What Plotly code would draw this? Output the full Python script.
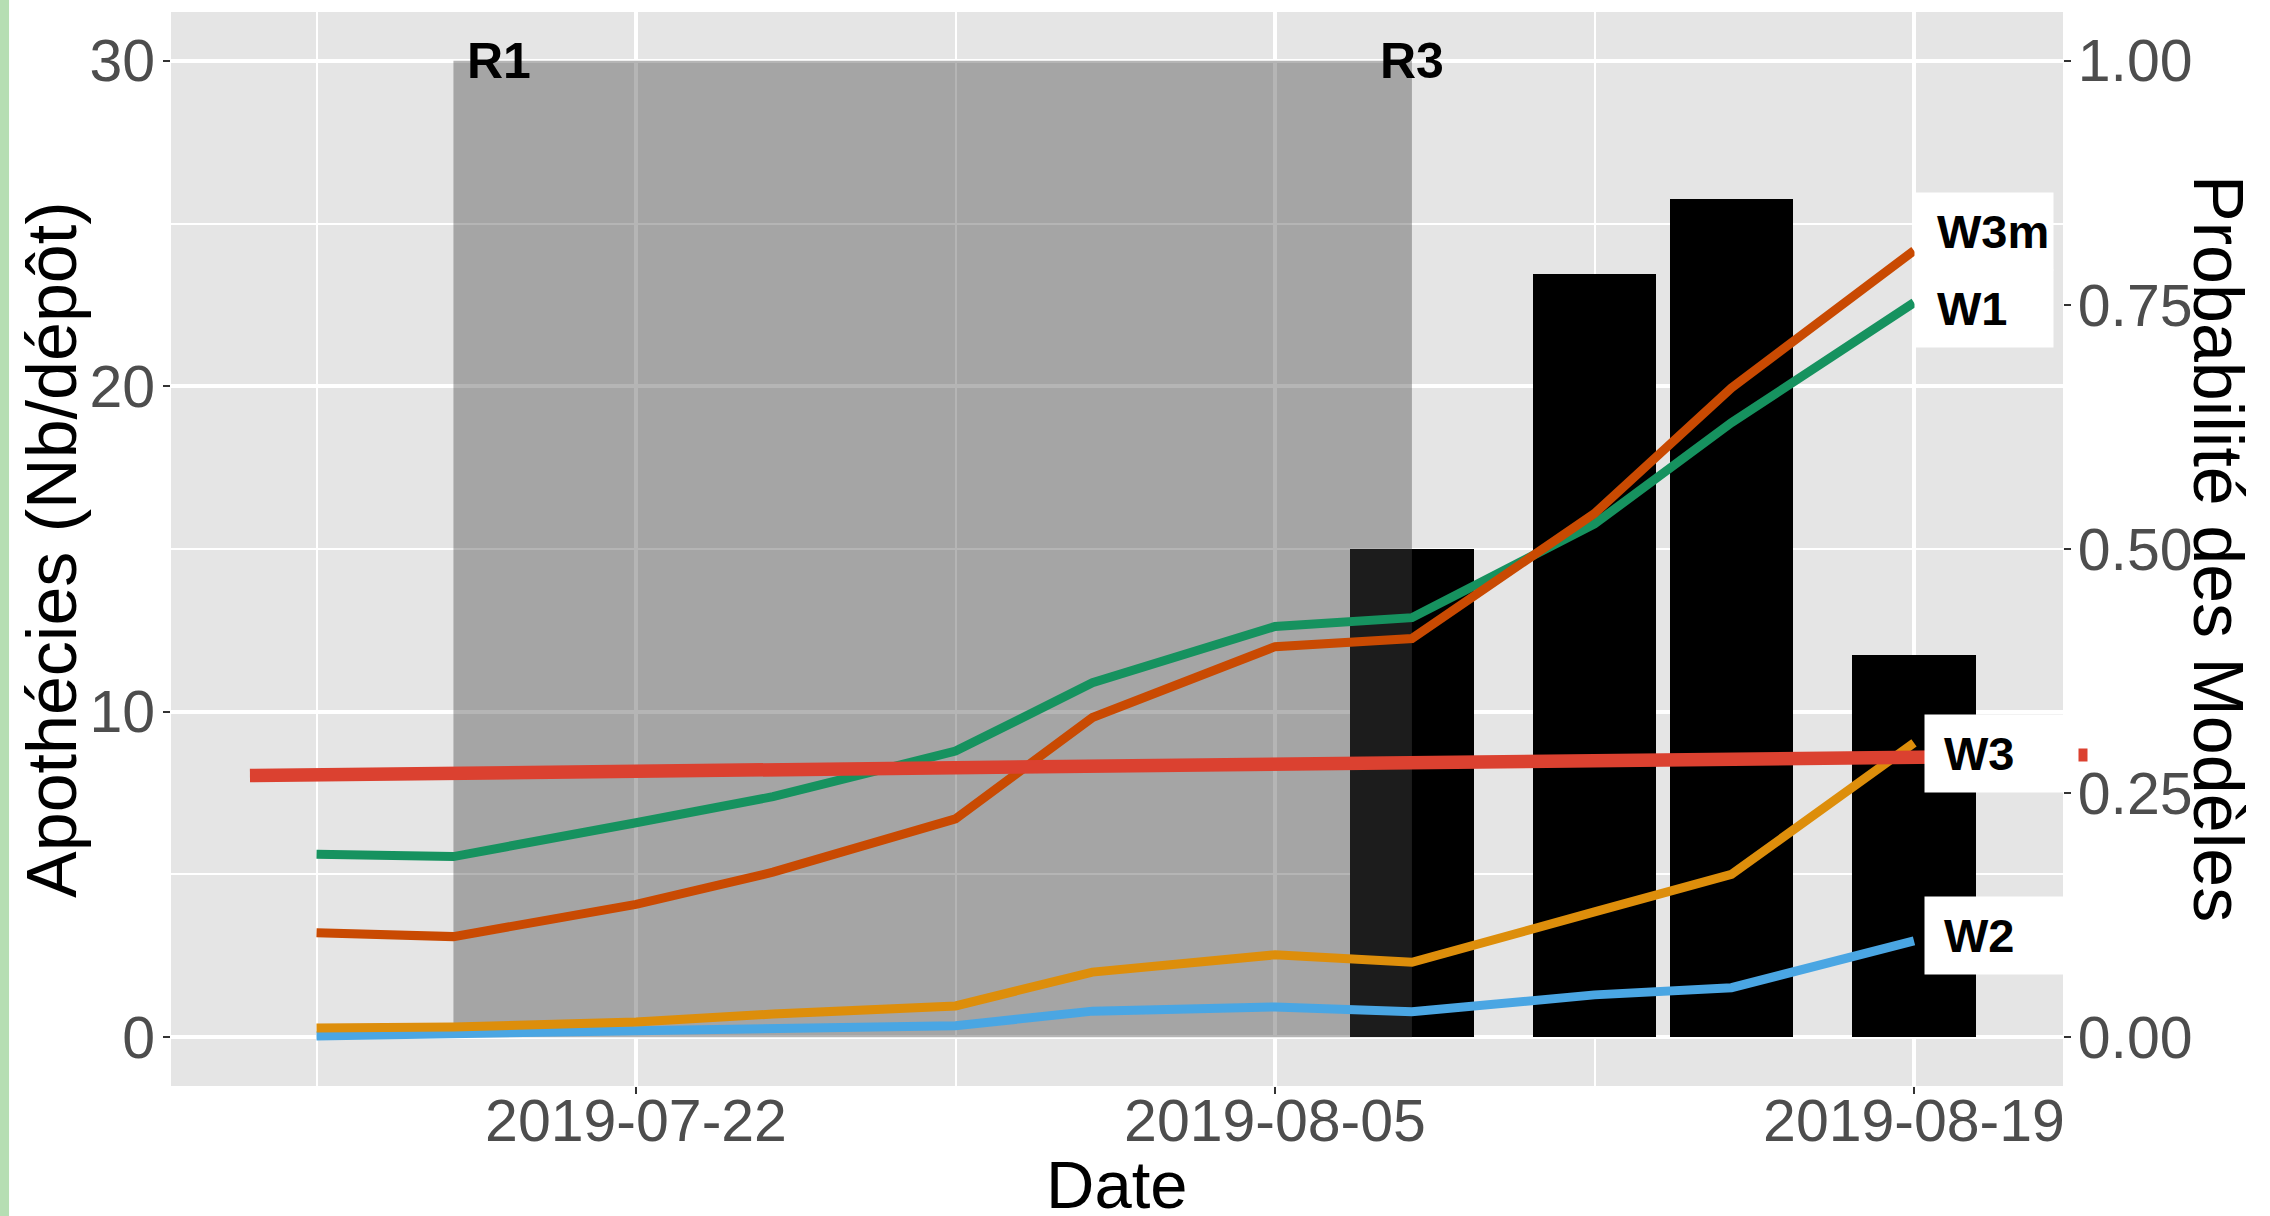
import plotly.graph_objects as go

# ---------------- data ----------------
dates = ['2019-07-15', '2019-07-18', '2019-07-22', '2019-07-25', '2019-07-29', '2019-08-01',
         '2019-08-05', '2019-08-08', '2019-08-12', '2019-08-15', '2019-08-19']
w1 = [5.62, 5.55, 6.59, 7.39, 8.79, 10.89, 12.62, 12.89, 15.77, 18.88, 22.57]
w3m = [3.21, 3.09, 4.08, 5.07, 6.71, 9.82, 12.0, 12.25, 16.09, 19.95, 24.17]
w3 = [0.28, 0.31, 0.47, 0.71, 0.96, 2.0, 2.53, 2.3, 3.85, 5.0, 9.04]
w2 = [0.04, 0.10, 0.17, 0.25, 0.35, 0.80, 0.93, 0.78, 1.30, 1.52, 2.96]

bar_dates = ['2019-08-08', '2019-08-12', '2019-08-15', '2019-08-19']
bar_values = [15.0, 23.45, 25.75, 11.75]

seuil_dates = ['2019-07-13 13:00', '2019-08-22 18:00']
seuil_values = [8.04, 8.66]

period_dates = ['2019-07-18', '2019-08-08']
period_top = 30
period_labels = ['R1', 'R3']
period_label_dates = ['2019-07-19', '2019-08-08']

label_names = ['W3m', 'W1', 'W3', 'W2']
label_y = [24.75, 22.39, 8.73, 3.13]
label_x = '2019-08-19'

left_ticks = [0, 10, 20, 30]
right_ticks = [0, 0.25, 0.5, 0.75, 1.0]
right_ticktext = ['0.00', '0.25', '0.50', '0.75', '1.00']

# ---------------- figure ----------------
FONT = 'Liberation Sans, Arial, Helvetica, sans-serif'
DAY = 86400000

fig = go.Figure()

fig.add_trace(go.Bar(x=bar_dates, y=bar_values, width=2.7 * DAY, marker=dict(color='black', line=dict(width=0)),
                     hoverinfo='skip'))

# R1-R3 shaded period (semi-transparent, above bars, below lines)
fig.add_trace(go.Scatter(
    x=[period_dates[0], period_dates[1], period_dates[1], period_dates[0], period_dates[0]],
    y=[0, 0, period_top, period_top, 0],
    fill='toself', fillcolor='rgba(71,71,71,0.4)', mode='lines', line=dict(width=0),
    hoverinfo='skip'))

line_w = 9
fig.add_trace(go.Scatter(x=dates, y=w2, mode='lines', line=dict(color='#4AA6E3', width=line_w)))
fig.add_trace(go.Scatter(x=dates, y=w3, mode='lines', line=dict(color='#DD8E0B', width=line_w)))
fig.add_trace(go.Scatter(x=dates, y=w1, mode='lines', line=dict(color='#16925F', width=line_w)))
fig.add_trace(go.Scatter(x=dates, y=w3m, mode='lines', line=dict(color='#C94A02', width=line_w)))
fig.add_trace(go.Scatter(x=seuil_dates, y=seuil_values, mode='lines', line=dict(color='#DB4130', width=13.5)))

# invisible trace for secondary axis
fig.add_trace(go.Scatter(x=dates[:1], y=[0.5], yaxis='y2', mode='markers', marker=dict(opacity=0),
                         hoverinfo='skip'))

annotations = []
for name, d in zip(period_labels, period_label_dates):
    annotations.append(dict(x=d, y=period_top, xref='x', yref='y', text='<b>%s</b>' % name, showarrow=False,
                            xanchor='center', yanchor='middle', font=dict(size=50, color='black', family=FONT)))

box_shift = [0, 0, 10, 10]
text_shift = [22, 22, 29, 29]
for name, yv, bs, ts in zip(label_names, label_y, box_shift, text_shift):
    annotations.append(dict(x=label_x, y=yv, xref='x', yref='y', text=' ', showarrow=False, xanchor='left',
                            yanchor='middle', width=138, height=77, bgcolor='white', borderpad=0, xshift=bs,
                            font=dict(size=10)))
    annotations.append(dict(x=label_x, y=yv, xref='x', yref='y', text='<b>%s</b>' % name, showarrow=False,
                            xanchor='left', yanchor='middle', xshift=ts, borderpad=0,
                            font=dict(size=47, color='black', family=FONT)))

# visible tip of the threshold line, just outside the panel (anchored on the last in-range date)
annotations.append(dict(x=label_x, y=seuil_values[-1], xref='x', yref='y', text=' ', showarrow=False,
                        xanchor='left', yanchor='middle', xshift=164, width=8, height=12, bgcolor='#DB4130',
                        borderpad=0, font=dict(size=1)))

annotations.append(dict(x=0.5, y=-0.092, xref='paper', yref='paper', text='Date', showarrow=False,
                        xanchor='center', yanchor='middle', font=dict(size=67, color='black', family=FONT)))
annotations.append(dict(x=-0.0629, y=0.5, xref='paper', yref='paper', text='Apothécies (Nb/dépôt)',
                        showarrow=False, textangle=-90, xanchor='center', yanchor='middle',
                        font=dict(size=70, color='black', family=FONT)))
annotations.append(dict(x=1.0819, y=0.5, xref='paper', yref='paper', text='Probabilité des Modèles',
                        showarrow=False, textangle=90, xanchor='center', yanchor='middle',
                        font=dict(size=70, color='black', family=FONT)))

shapes = [dict(type='rect', xref='paper', yref='paper', x0=-0.0904, x1=-0.0856, y0=-0.2, y1=1.1,
               fillcolor='#B6DEB3', line=dict(width=0), layer='above')]

tickfont = dict(size=59, color='#4D4D4D', family=FONT)

fig.update_layout(
    width=2270, height=1216,
    margin=dict(l=171, r=207, t=12, b=130, pad=0),
    paper_bgcolor='white', plot_bgcolor='#E5E5E5',
    showlegend=False, bargap=0,
    font=dict(family=FONT),
    annotations=annotations, shapes=shapes,
    xaxis=dict(type='date', range=['2019-07-11 19:29', '2019-08-22 06:21'],
               tick0='2019-07-22', dtick=14 * DAY, tickformat='%Y-%m-%d',
               ticks='outside', ticklen=7, tickwidth=2, tickcolor='#333333', tickfont=tickfont,
               ticklabelstandoff=-24,
               showgrid=True, gridcolor='white', gridwidth=3.5, zeroline=False, showline=False,
               minor=dict(tick0='2019-07-15', dtick=7 * DAY, showgrid=True, gridcolor='white', gridwidth=1.8,
                          ticks='')),
    yaxis=dict(range=[-1.5, 31.5], tickvals=left_ticks, ticks='outside', ticklen=7, tickwidth=2,
               tickcolor='#333333', tickfont=tickfont, ticklabelstandoff=-4,
               showgrid=True, gridcolor='white', gridwidth=3.5,
               zeroline=False, showline=False,
               minor=dict(tickvals=[5, 15, 25], showgrid=True, gridcolor='white', gridwidth=1.8, ticks='')),
    yaxis2=dict(overlaying='y', side='right', range=[-0.05, 1.05], tickvals=right_ticks,
                ticktext=right_ticktext, ticks='outside', ticklen=7, tickwidth=2, tickcolor='#333333',
                tickfont=tickfont, ticklabelstandoff=-5, showgrid=False, zeroline=False, showline=False),
)

fig.write_html('out.html', config={'displayModeBar': False},
               post_script="document.body.style.margin='0';")
